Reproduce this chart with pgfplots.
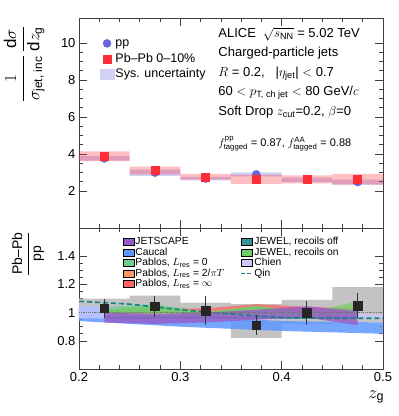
\RequirePackage{fix-cm}
\documentclass[border=0pt]{standalone}
\usepackage{fontspec}
\setmainfont{Liberation Sans}
\usepackage{amsmath}
\usepackage{pgfplots}
\pgfplotsset{compat=1.18}

\definecolor{ppblue}{RGB}{100,100,220}
\definecolor{pbred}{RGB}{255,45,55}
\definecolor{sysgray}{RGB}{195,195,195}
\definecolor{cjetscape}{RGB}{150,90,200}
\definecolor{ccaucal}{RGB}{95,150,255}
\definecolor{cpabzero}{RGB}{110,205,145}
\definecolor{cpabtwo}{RGB}{255,150,100}
\definecolor{cpabinf}{RGB}{255,100,100}
\definecolor{cjewoff}{RGB}{50,150,150}
\definecolor{cjewon}{RGB}{110,205,100}
\definecolor{cchien}{RGB}{200,200,250}
\definecolor{cqin}{RGB}{20,130,130}

\begin{document}
\begin{tikzpicture}
\useasboundingbox (-79pt,-47pt) rectangle (320pt,369pt);
\pgfplotsset{
  common/.style={
    scale only axis, width=304pt,
    xmin=0.2, xmax=0.5,
    xtick={0.2,0.3,0.4,0.5}, minor x tick num=4,
    tick align=inside, tick pos=both,
    major tick length=8pt, minor tick length=4pt,
    axis line style={black!75, line width=0.7pt},
    every tick/.style={black!75, line width=0.6pt},
    tick label style={font=\fontsize{13}{15}\selectfont},
    /pgf/number format/assume math mode=true,
    unbounded coords=jump,
  }
}
% ---------------- ratio panel
\begin{axis}[common,
  at={(0pt,0pt)}, anchor=south west, height=141pt,
  ymin=0.6, ymax=1.6, ytick={0.8,1,1.2,1.4}, minor y tick num=3,
  xlabel={$z_{\text{g}}$},
  x label style={font=\fontsize{18}{20}\selectfont, at={(axis description cs:1.015,0)}, anchor=north east, yshift=-18pt},
  ylabel={$\dfrac{\text{Pb--Pb}}{\text{pp}}$},
  y label style={font=\fontsize{14}{16}\selectfont, at={(axis description cs:-0.168,1.0)}, anchor=east, rotate=0},
  legend style={at={(0.135,0.96)}, anchor=north west, draw=none, fill=none,
    font=\fontsize{10.3}{11}\selectfont, row sep=-1.6pt,
    nodes={inner sep=1.3pt, text height=7.4pt, text depth=2.1pt},
    /tikz/every even column/.append style={column sep=15pt}},
  legend columns=2, legend cell align=left,
]
% systematic boxes
\addplot[fill=sysgray, draw=none, forget plot] coordinates {
 (0.20,0.96)(0.25,0.96)(0.25,1.10)(0.20,1.10)(0.20,0.96) (nan,nan)
 (0.25,0.965)(0.30,0.965)(0.30,1.12)(0.25,1.12)(0.25,0.965) (nan,nan)
 (0.30,0.96)(0.35,0.96)(0.35,1.07)(0.30,1.07)(0.30,0.96) (nan,nan)
 (0.35,0.82)(0.40,0.82)(0.40,1.06)(0.35,1.06)(0.35,0.82) (nan,nan)
 (0.40,0.92)(0.45,0.92)(0.45,1.09)(0.40,1.09)(0.40,0.92) (nan,nan)
 (0.45,0.93)(0.50,0.93)(0.50,1.18)(0.45,1.18)(0.45,0.93)};
% Caucal
\addplot[fill=ccaucal, draw=none, fill opacity=0.85, forget plot] coordinates {
 (0.2,0.94)(0.25,0.92)(0.3,0.90)(0.35,0.885)(0.4,0.87)(0.45,0.86)(0.5,0.85)
 (0.5,0.93)(0.45,0.935)(0.4,0.94)(0.35,0.96)(0.3,0.99)(0.25,1.02)(0.2,1.05)};
% Chien
\addplot[fill=cchien, draw=none, fill opacity=0.8, forget plot] coordinates {
 (0.2,0.96)(0.25,0.955)(0.3,0.95)(0.35,0.95)(0.4,0.95)(0.45,0.955)(0.5,0.955)
 (0.5,0.99)(0.45,0.99)(0.4,0.99)(0.35,1.0)(0.3,1.0)(0.25,1.03)(0.2,1.05)};
% JEWEL recoils off
\addplot[fill=cjewoff, draw=none, fill opacity=0.8, forget plot] coordinates {
 (0.225,0.955)(0.275,0.955)(0.325,0.955)(0.375,0.955)(0.425,0.955)(0.475,0.955)
 (0.475,0.975)(0.425,0.975)(0.375,0.975)(0.325,0.975)(0.275,0.975)(0.225,0.975)};
% Pablos inf
\addplot[fill=cpabinf, draw=none, fill opacity=0.75, forget plot] coordinates {
 (0.225,0.99)(0.275,0.99)(0.325,0.99)(0.375,1.0)(0.425,0.99)(0.475,0.99)
 (0.475,1.03)(0.425,1.04)(0.375,1.06)(0.325,1.03)(0.275,1.03)(0.225,1.02)};
% Pablos 2/piT
\addplot[fill=cpabtwo, draw=none, fill opacity=0.75, forget plot] coordinates {
 (0.225,0.99)(0.275,0.99)(0.325,0.99)(0.375,0.99)(0.425,0.99)(0.475,0.99)
 (0.475,1.01)(0.425,1.02)(0.375,1.02)(0.325,1.01)(0.275,1.03)(0.225,1.01)};
% Pablos 0
\addplot[fill=cpabzero, draw=none, fill opacity=0.75, forget plot] coordinates {
 (0.225,1.0)(0.275,1.0)(0.325,0.99)(0.375,0.99)(0.425,0.98)(0.475,0.98)
 (0.475,1.02)(0.425,1.0)(0.375,1.04)(0.325,1.005)(0.275,1.06)(0.225,1.04)};
% JEWEL recoils on
\addplot[fill=cjewon, draw=none, fill opacity=0.7, forget plot] coordinates {
 (0.225,0.98)(0.275,0.99)(0.325,0.97)(0.375,0.99)(0.425,0.96)(0.475,1.0)
 (0.475,1.08)(0.425,1.0)(0.375,1.05)(0.325,1.0)(0.275,1.05)(0.225,1.02)};
% JETSCAPE
\addplot[fill=cjetscape, draw=none, fill opacity=0.8, forget plot] coordinates {
 (0.225,0.93)(0.275,0.92)(0.325,0.93)(0.375,0.95)(0.425,0.965)(0.475,0.91)
 (0.475,1.01)(0.425,1.045)(0.375,1.02)(0.325,1.0)(0.275,0.99)(0.225,1.0)};
% Qin
\addplot[cqin, dashed, line width=1.6pt, dash pattern=on 5pt off 3pt, forget plot] coordinates {
 (0.2,1.08)(0.25,1.06)(0.3,1.02)(0.35,0.99)(0.4,0.965)(0.45,0.96)(0.5,0.96)};
% unity
\addplot[black!55, densely dotted, line width=1.2pt, forget plot] coordinates {(0.2,1)(0.5,1)};
% data
\addplot[only marks, mark=square*, mark size=4.3pt, color=black!85, forget plot,
  error bars/.cd, y dir=both, y explicit, error mark=none,
  error bar style={line width=1pt, black!80}] coordinates {
 (0.225,1.03) +- (0,0.07)
 (0.275,1.045) +- (0,0.075)
 (0.325,1.015) +- (0,0.1)
 (0.375,0.91) +- (0,0.07)
 (0.425,1.0) +- (0,0.085)
 (0.475,1.05) +- (0,0.09)};
% legend
\pgfplotsset{area leg/.style={legend image code/.code={\fill[##1] (0pt,-3.6pt) rectangle (10.5pt,3.6pt);}}}
\addlegendimage{area leg, fill=cjetscape}
\addlegendentry{JETSCAPE}
\addlegendimage{area leg, fill=cjewoff}
\addlegendentry{JEWEL, recoils off}
\addlegendimage{area leg, fill=ccaucal}
\addlegendentry{Caucal}
\addlegendimage{area leg, fill=cjewon}
\addlegendentry{JEWEL, recoils on}
\addlegendimage{area leg, fill=cpabzero}
\addlegendentry{Pablos, $L_{\text{res}}$ = 0}
\addlegendimage{area leg, fill=cchien}
\addlegendentry{Chien}
\addlegendimage{area leg, fill=cpabtwo}
\addlegendentry{Pablos, $L_{\text{res}}$ = 2/$\pi T$}
\addlegendimage{legend image code/.code={\draw[cqin, line width=1.6pt, dash pattern=on 4pt off 2pt] (0pt,0pt) -- (11pt,0pt);}}
\addlegendentry{Qin}
\addlegendimage{area leg, fill=cpabinf}
\addlegendentry{Pablos, $L_{\text{res}}$ = $\infty$}
\end{axis}

% ---------------- spectrum panel
\begin{axis}[common,
  at={(0pt,141pt)}, anchor=south west, height=210pt,
  ymin=0, ymax=11.35, ytick={2,4,6,8,10}, minor y tick num=3,
  xticklabels={},
  ylabel={$\dfrac{1}{\sigma_{\text{jet, inc}}}\,\dfrac{\text{d}\sigma}{\text{d}z_{\text{g}}}$},
  y label style={font=\fontsize{17}{19}\selectfont, at={(axis description cs:-0.18,0.98)}, anchor=east, rotate=0},
  legend style={at={(0.058,0.925)}, anchor=north west, draw=none, fill=none,
    font=\fontsize{12.5}{14}\selectfont, row sep=0.5pt,
    nodes={inner sep=1.2pt, text height=9.5pt, text depth=3pt}},
  legend cell align=left,
]
\addplot[fill=ppblue, fill opacity=0.3, draw=none, forget plot] coordinates {
 (0.20,3.64)(0.25,3.64)(0.25,3.88)(0.20,3.88)(0.20,3.64) (nan,nan)
 (0.25,2.82)(0.30,2.82)(0.30,3.16)(0.25,3.16)(0.25,2.82) (nan,nan)
 (0.30,2.58)(0.35,2.58)(0.35,2.76)(0.30,2.76)(0.30,2.58) (nan,nan)
 (0.35,2.79)(0.40,2.79)(0.40,3.01)(0.35,3.01)(0.35,2.79) (nan,nan)
 (0.40,2.48)(0.45,2.48)(0.45,2.72)(0.40,2.72)(0.40,2.48) (nan,nan)
 (0.45,2.34)(0.50,2.34)(0.50,2.62)(0.45,2.62)(0.45,2.34)};
\addplot[fill=pbred, fill opacity=0.3, draw=none, forget plot] coordinates {
 (0.20,3.62)(0.25,3.62)(0.25,4.14)(0.20,4.14)(0.20,3.62) (nan,nan)
 (0.25,2.90)(0.30,2.90)(0.30,3.32)(0.25,3.32)(0.25,2.90) (nan,nan)
 (0.30,2.61)(0.35,2.61)(0.35,2.93)(0.30,2.93)(0.30,2.61) (nan,nan)
 (0.35,2.38)(0.40,2.38)(0.40,2.88)(0.35,2.88)(0.35,2.38) (nan,nan)
 (0.40,2.41)(0.45,2.41)(0.45,2.85)(0.40,2.85)(0.40,2.41) (nan,nan)
 (0.45,2.34)(0.50,2.34)(0.50,2.92)(0.45,2.92)(0.45,2.34)};
\addplot[only marks, mark=*, mark size=4pt, color=ppblue] coordinates {
 (0.225,3.76)(0.275,2.99)(0.325,2.67)(0.375,2.90)(0.425,2.60)(0.475,2.48)};
\addlegendentry{pp}
\addplot[only marks, mark=square*, mark size=4pt, color=pbred] coordinates {
 (0.225,3.88)(0.275,3.13)(0.325,2.77)(0.375,2.63)(0.425,2.63)(0.475,2.63)};
\addlegendentry{Pb--Pb 0--10\%}
\addlegendimage{legend image code/.code={\fill[ppblue!30] (1.5pt,-5pt) rectangle (15.5pt,5pt);}}
\addlegendentry{Sys. uncertainty}
\node[anchor=north west, align=left, font=\fontsize{13}{19.5}\selectfont, inner sep=0pt]
  at (rel axis cs:0.458,0.955) {ALICE~~$\sqrt{s_{\text{NN}}}$ = 5.02 TeV\\
  Charged-particle jets\\
  $R$ = 0.2,~~~|$\eta_{\text{jet}}$| $<$ 0.7\\
  60 $<$ $p_{\text{T, ch jet}}$ $<$ 80 GeV/$c$\\
  Soft Drop $z_{\text{cut}}$=0.2, $\beta$=0};
\node[anchor=west, font=\fontsize{11}{13}\selectfont, inner sep=0pt]
  at (rel axis cs:0.458,0.40) {$f^{\text{pp}}_{\text{tagged}}$ = 0.87, $f^{\text{AA}}_{\text{tagged}}$ = 0.88};
\end{axis}
\end{tikzpicture}
\end{document}
